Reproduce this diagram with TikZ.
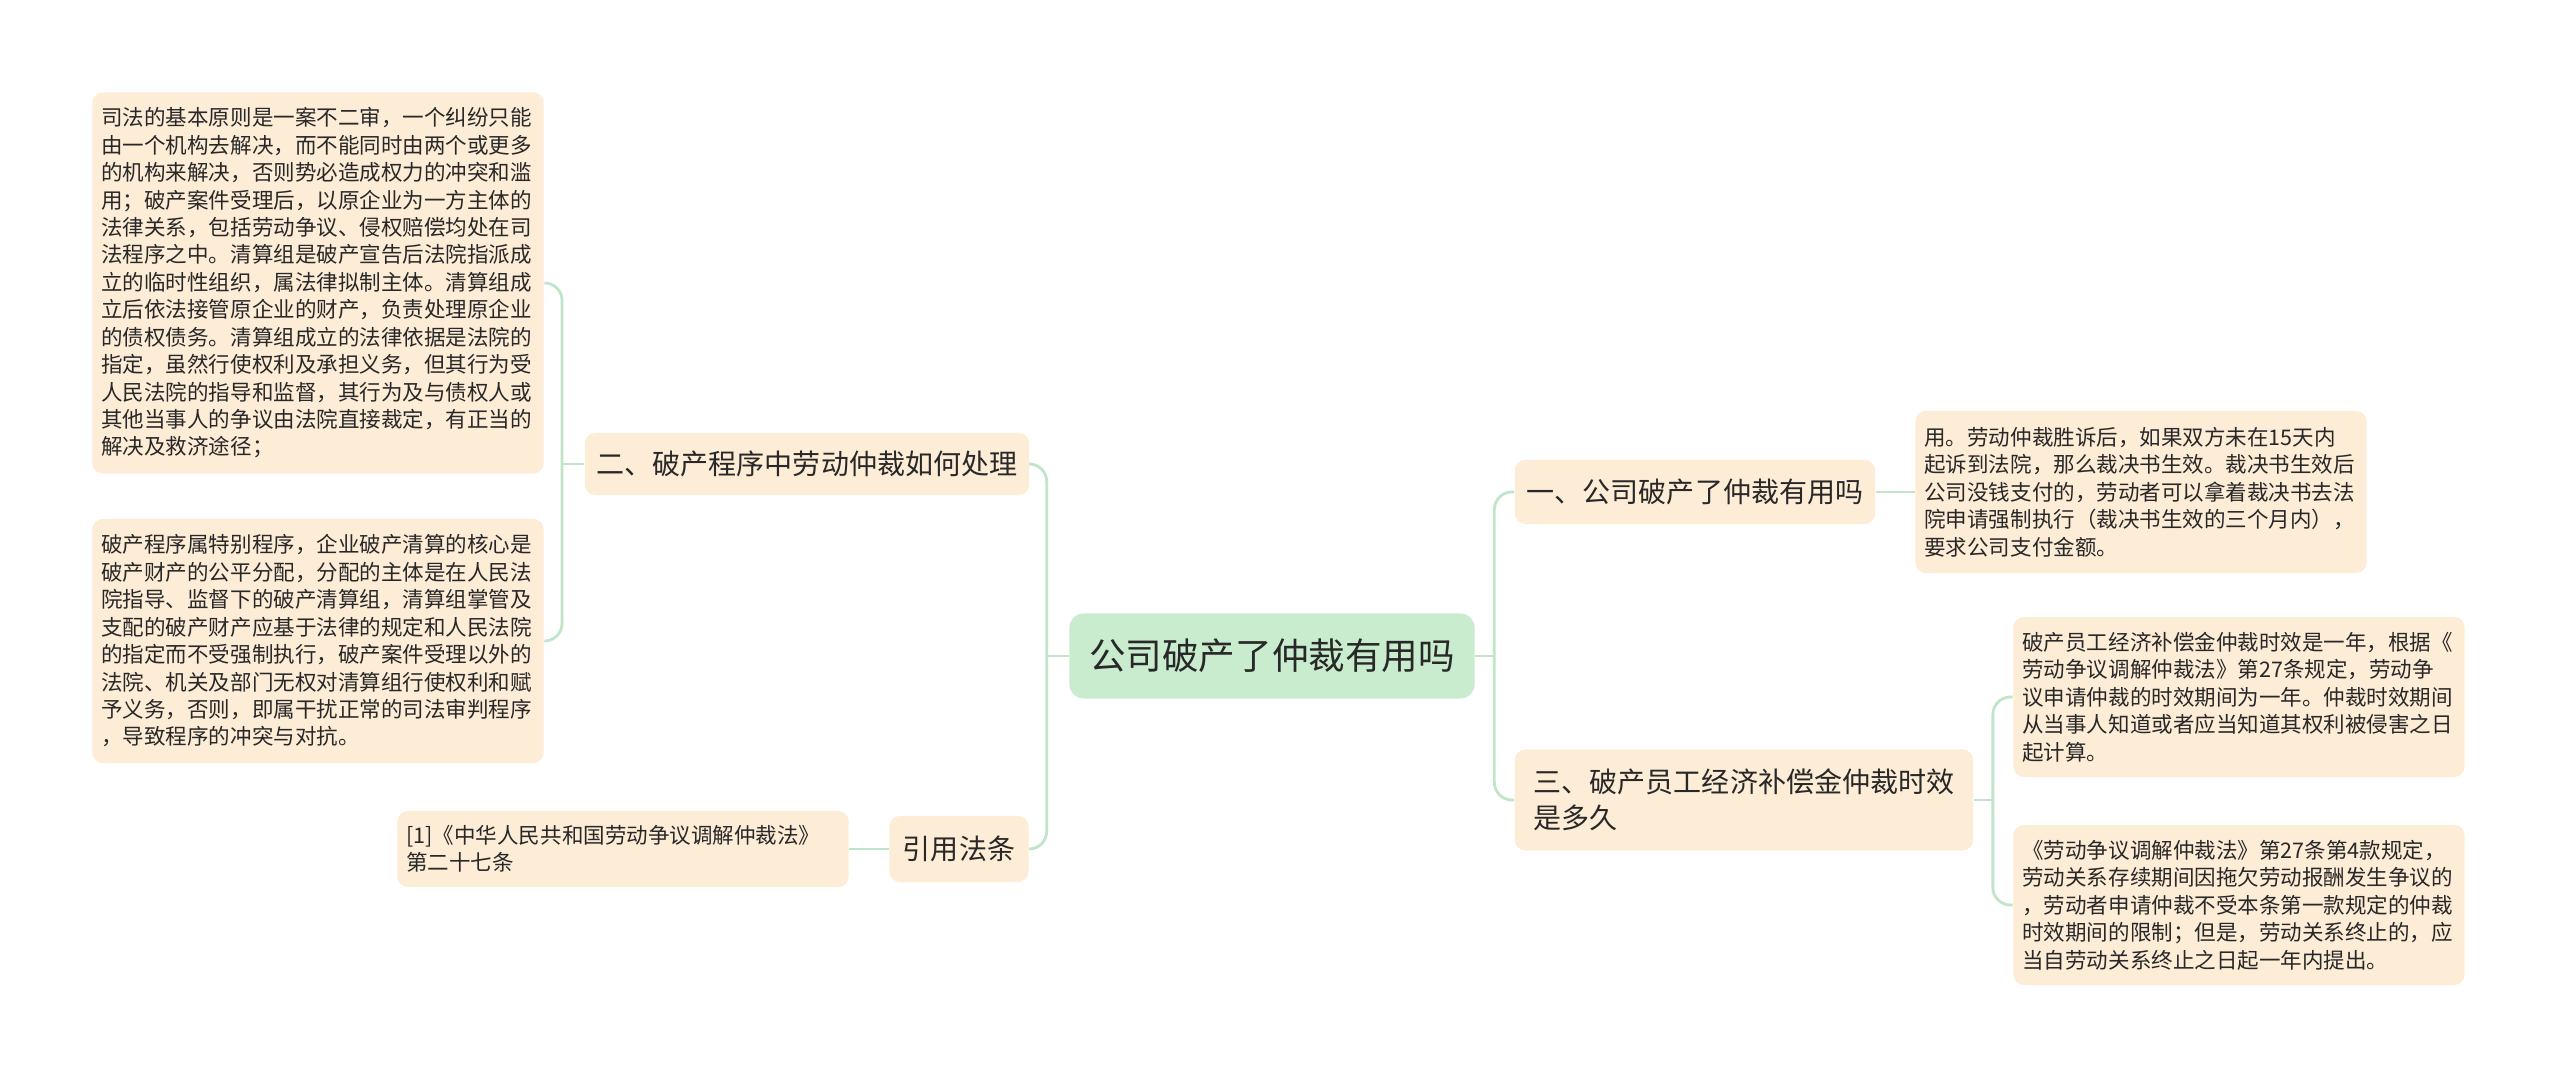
\documentclass[tikz,border=0pt]{standalone}
\usepackage{fontspec}
\usepackage{xcolor}
\usepackage{tikz}
\usetikzlibrary{positioning,calc}
\newfontfamily\cjk{Noto Sans CJK SC}
\definecolor{rootgreen}{RGB}{200, 236, 205}
\definecolor{leafpeach}{RGB}{253, 236, 214}
\definecolor{linkgreen}{RGB}{193, 229, 201}
\definecolor{textgray}{RGB}{40, 40, 40}

\begin{document}
\begin{tikzpicture}[
    x=0.01cm, y=-0.01cm,
    root/.style={rectangle, rounded corners=4pt, fill=rootgreen, text=textgray, minimum width=4.05cm, minimum height=0.85cm, font=\cjk\fontsize{10.4pt}{13pt}\selectfont},
    topic/.style={rectangle, rounded corners=3pt, fill=leafpeach, text=textgray, inner xsep=0.12cm, font=\cjk\fontsize{7.97pt}{10.24pt}\selectfont, align=left},
    leaf/.style={rectangle, rounded corners=3pt, fill=leafpeach, text=textgray, text width=4.33cm, inner xsep=0.09cm, inner ysep=0.08cm, font=\cjk\fontsize{6.12pt}{7.8pt}\selectfont, align=left},
    link/.style={draw=linkgreen, line width=0.8pt, rounded corners=5pt}
]
    \path[fill=white, use as bounding box] (0,0) rectangle (2560,1077);

    % centre
    \node[root] (root) at (1272,656) {公司破产了仲裁有用吗};

    % left side
    \node[topic, minimum width=4.44cm, minimum height=0.62cm] (b2) at (807,464) {二、破产程序中劳动仲裁如何处理};
    \node[topic, minimum width=1.39cm, minimum height=0.66cm] (cite) at (959,849) {引用法条};

    \node[leaf, minimum height=3.81cm] (l1) at (318,283) {
        司法的基本原则是一案不二审，一个纠纷只能\\
        由一个机构去解决，而不能同时由两个或更多\\
        的机构来解决，否则势必造成权力的冲突和滥\\
        用；破产案件受理后，以原企业为一方主体的\\
        法律关系，包括劳动争议、侵权赔偿均处在司\\
        法程序之中。清算组是破产宣告后法院指派成\\
        立的临时性组织，属法律拟制主体。清算组成\\
        立后依法接管原企业的财产，负责处理原企业\\
        的债权债务。清算组成立的法律依据是法院的\\
        指定，虽然行使权利及承担义务，但其行为受\\
        人民法院的指导和监督，其行为及与债权人或\\
        其他当事人的争议由法院直接裁定，有正当的\\
        解决及救济途径；
    };
    \node[leaf, minimum height=2.44cm] (l2) at (318,641) {
        破产程序属特别程序，企业破产清算的核心是\\
        破产财产的公平分配，分配的主体是在人民法\\
        院指导、监督下的破产清算组，清算组掌管及\\
        支配的破产财产应基于法律的规定和人民法院\\
        的指定而不受强制执行，破产案件受理以外的\\
        法院、机关及部门无权对清算组行使权利和赋\\
        予义务，否则，即属干扰正常的司法审判程序\\
        ，导致程序的冲突与对抗。
    };
    \node[leaf, minimum height=0.76cm] (lref) at (623,849) {
        [1]《中华人民共和国劳动争议调解仲裁法》\\
        第二十七条
    };

    % right side
    \node[topic, minimum width=3.60cm, minimum height=0.64cm] (b1) at (1695,492) {一、公司破产了仲裁有用吗};
    \node[topic, minimum width=4.58cm, minimum height=1.01cm] (b3) at (1744,800) {三、破产员工经济补偿金仲裁时效\\是多久};

    \node[leaf, minimum height=1.62cm] (r1) at (2141,492) {
        用。劳动仲裁胜诉后，如果双方未在15天内\\
        起诉到法院，那么裁决书生效。裁决书生效后\\
        公司没钱支付的，劳动者可以拿着裁决书去法\\
        院申请强制执行（裁决书生效的三个月内），\\
        要求公司支付金额。
    };
    \node[leaf, minimum height=1.60cm] (r3a) at (2239,697) {
        破产员工经济补偿金仲裁时效是一年，根据《\\
        劳动争议调解仲裁法》第27条规定，劳动争\\
        议申请仲裁的时效期间为一年。仲裁时效期间\\
        从当事人知道或者应当知道其权利被侵害之日\\
        起计算。
    };
    \node[leaf, minimum height=1.60cm] (r3b) at (2239,905) {
        《劳动争议调解仲裁法》第27条第4款规定，\\
        劳动关系存续期间因拖欠劳动报酬发生争议的\\
        ，劳动者申请仲裁不受本条第一款规定的仲裁\\
        时效期间的限制；但是，劳动关系终止的，应\\
        当自劳动关系终止之日起一年内提出。
    };

    % connectors
    \coordinate (rhub) at ($(root.east)+(19,0)$);
    \coordinate (lhub) at ($(root.west)+(-22,0)$);
    \coordinate (b2hub) at ($(b2.west)+(-22,0)$);
    \coordinate (b3hub) at ($(b3.east)+(19,0)$);

    \draw[link] (root.east) -- (rhub);
    \draw[link] (rhub) |- (b1.west);
    \draw[link] (rhub) |- (b3.west);
    \draw[link] (root.west) -- (lhub);
    \draw[link] (lhub) |- (b2.east);
    \draw[link] (lhub) |- (cite.east);
    \draw[link] (b2.west) -- (b2hub);
    \draw[link] (b2hub) |- (l1.east);
    \draw[link] (b2hub) |- (l2.east);
    \draw[link] (cite.west) -- (lref.east);
    \draw[link] (b1.east) -- (r1.west);
    \draw[link] (b3.east) -- (b3hub);
    \draw[link] (b3hub) |- (r3a.west);
    \draw[link] (b3hub) |- (r3b.west);
\end{tikzpicture}
\end{document}
